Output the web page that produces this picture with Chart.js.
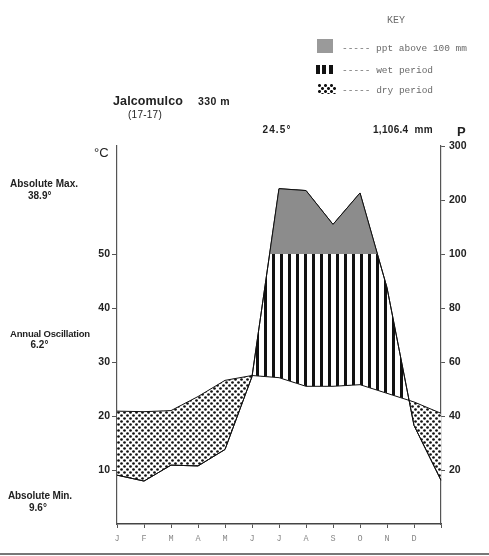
<!DOCTYPE html>
<html><head><meta charset="utf-8">
<script src="https://cdn.jsdelivr.net/npm/chart.js@4.4.1/dist/chart.umd.min.js"></script>
<style>
html,body{margin:0;padding:0;background:#fff;}
#wrap{position:relative;width:489px;height:556px;overflow:hidden;background:#fff;}
canvas{position:absolute;left:0;top:0;}
.t{position:absolute;white-space:nowrap;font-family:"Liberation Sans",Arial,sans-serif;color:#222;line-height:1;}
.b{font-weight:bold;}
.m{font-family:"Liberation Mono","DejaVu Sans Mono",monospace;color:#6a6a6a;}
.ic{position:absolute;}
</style></head>
<body><div id="wrap">
<canvas id="c" width="489" height="556"></canvas>

<div class="t m" style="left:387px;top:16px;font-size:10px;">KEY</div>
<div class="ic" style="left:317px;top:39px;width:16px;height:14px;background:#9a9a9a;"></div>
<div class="t m" style="left:342px;top:43.5px;font-size:9.5px;" data-w="125">----- ppt above 100 mm</div>
<div class="ic" style="left:316px;top:65px;width:17px;height:9px;background:repeating-linear-gradient(90deg,#111 0 4px,transparent 4px 6.5px);"></div>
<div class="t m" style="left:342px;top:65.5px;font-size:9.5px;" data-w="91">----- wet period</div>
<div class="ic" style="left:318px;top:84px;width:18px;height:10px;background-image:radial-gradient(circle at 1.5px 1.5px,#111 1.2px,transparent 1.7px),radial-gradient(circle at 4.5px 4.5px,#111 1.2px,transparent 1.7px);background-size:6px 6px;"></div>
<div class="t m" style="left:342px;top:85.5px;font-size:9.5px;" data-w="91">----- dry period</div>

<div class="t b" style="left:113px;top:94.5px;font-size:12.5px;" data-w="70">Jalcomulco</div>
<div class="t b" style="left:198px;top:96px;font-size:10.5px;" data-w="32">330 m</div>
<div class="t" style="left:128px;top:110px;font-size:10px;" data-w="34">(17-17)</div>

<div class="t b" style="left:262.5px;top:124.5px;font-size:10px;" data-w="29">24.5°</div>
<div class="t b" style="left:373px;top:124.5px;font-size:10px;" data-w="60">1,106.4&nbsp;&nbsp;mm</div>
<div class="t b" style="left:457px;top:125px;font-size:13px;">P</div>
<div class="t" style="left:94px;top:146px;font-size:13px;">°C</div>

<div class="t b" style="left:10px;top:178.5px;font-size:10px;" data-w="68">Absolute Max.</div>
<div class="t b" style="left:28px;top:190.5px;font-size:10px;">38.9°</div>
<div class="t b" style="left:10px;top:328.5px;font-size:9.5px;" data-w="80">Annual Oscillation</div>
<div class="t b" style="left:30.5px;top:340px;font-size:10px;">6.2°</div>
<div class="t b" style="left:8px;top:490.5px;font-size:10px;" data-w="64">Absolute Min.</div>
<div class="t b" style="left:29px;top:503px;font-size:10px;">9.6°</div>

<div style="position:absolute;left:0;top:553px;width:489px;height:2px;background:#777;"></div>
</div>
<script>
// ---- data ----
const months = ['J','F','M','A','M','J','J','A','S','O','N','D',''];
const tempC = [20.9, 20.8, 21.0, 23.6, 26.6, 27.5, 27.1, 25.5, 25.5, 25.8, 24.2, 22.6, 20.5];
const precipMm = [18.1, 15.9, 21.8, 21.5, 27.6, 54.6, 221, 217.5, 154.8, 213, 87.5, 36.5, 16.2];
const tempTicks = [10, 20, 30, 40, 50];
const precipTicks = [20, 40, 60, 80, 100, 200, 300];

// Walter-Lieth scale: 10 °C = 20 mm up to 100 mm, then 10 °C = 100 mm
function precipToScale(p){ return p <= 100 ? p / 2 : 50 + (p - 100) / 10; }
const precipScaled = precipMm.map(precipToScale);

function makeStripes(){
  const c = document.createElement('canvas'); c.width = 8; c.height = 8;
  const g = c.getContext('2d');
  g.fillStyle = '#fff'; g.fillRect(0,0,8,8);
  g.fillStyle = '#111'; g.fillRect(0,0,3,8);
  return g.createPattern(c,'repeat');
}
function makeDots(){
  const c = document.createElement('canvas'); c.width = 6; c.height = 6;
  const g = c.getContext('2d');
  g.fillStyle = '#fff'; g.fillRect(0,0,6,6);
  g.fillStyle = '#111';
  [[1.5,1.5],[4.5,4.5]].forEach(([x,y])=>{ g.beginPath(); g.arc(x,y,1.35,0,Math.PI*2); g.fill(); });
  return g.createPattern(c,'repeat');
}
const stripes = makeStripes();
const dots = makeDots();

Chart.defaults.font.family = '"Liberation Sans", Arial, sans-serif';

new Chart(document.getElementById('c'), {
  type: 'line',
  data: {
    labels: months,
    datasets: [
      { label: 'temperature', data: tempC, borderColor: '#111', borderWidth: 1, pointRadius: 0, tension: 0, fill: false },
      { label: 'ppt above 100 mm', data: precipScaled, borderColor: '#111', borderWidth: 1, pointRadius: 0, tension: 0,
        fill: { target: { value: 50 }, above: '#8c8c8c', below: 'rgba(0,0,0,0)' } },
      { label: 'wet / dry', data: precipScaled, borderColor: '#111', borderWidth: 1, pointRadius: 0, tension: 0,
        fill: { target: 0, above: stripes, below: dots } }
    ]
  },
  options: {
    responsive: false, animation: false, devicePixelRatio: 1,
    layout: { padding: { top: 146, left: 0, right: 0, bottom: 0 } },
    plugins: { legend: { display: false }, tooltip: { enabled: false }, title: { display: false } },
    scales: {
      x: {
        type: 'category', offset: false,
        grid: { drawOnChartArea: false, drawTicks: true, tickLength: 4, color: '#555', offset: false },
        border: { display: true, color: '#444', width: 1.5 },
        ticks: { autoSkip: false, maxRotation: 0, padding: 6, color: '#888',
          font: { family: '"Liberation Mono", monospace', size: 8.5 } },
        afterFit: s => { s.height = 32; }
      },
      y: {
        position: 'left', min: 0, max: 70,
        afterBuildTicks: s => { s.ticks = tempTicks.map(v => ({ value: v })); },
        grid: { drawOnChartArea: false, drawTicks: true, tickLength: 5, color: '#555' },
        border: { display: true, color: '#555', width: 1.2 },
        ticks: { color: '#222', padding: 2, font: { size: 10.5, weight: 'bold' } },
        afterFit: s => { s.width = 117; }
      },
      y2: {
        position: 'right', min: 0, max: 70,
        afterBuildTicks: s => { s.ticks = precipTicks.map(p => ({ value: precipToScale(p) })); },
        grid: { drawOnChartArea: false, drawTicks: true, tickLength: 4, color: '#555' },
        border: { display: true, color: '#555', width: 1.2 },
        ticks: { color: '#222', padding: 4, font: { size: 10.5, weight: 'bold' },
          callback: function(v){ const i = precipTicks.findIndex(p => Math.abs(precipToScale(p) - v) < 1e-6); return i >= 0 ? String(precipTicks[i]) : ''; } },
        afterFit: s => { s.width = 48; }
      }
    }
  }
});

function fitTexts(){
  document.querySelectorAll('[data-w]').forEach(el => {
    el.style.letterSpacing = '0px';
    const w = parseFloat(el.dataset.w);
    const actual = el.getBoundingClientRect().width;
    const n = el.textContent.length;
    if (n > 1) el.style.letterSpacing = ((w - actual) / n).toFixed(2) + 'px';
  });
}
if (document.fonts && document.fonts.ready) document.fonts.ready.then(fitTexts); else fitTexts();
fitTexts();
</script>
</body></html>
